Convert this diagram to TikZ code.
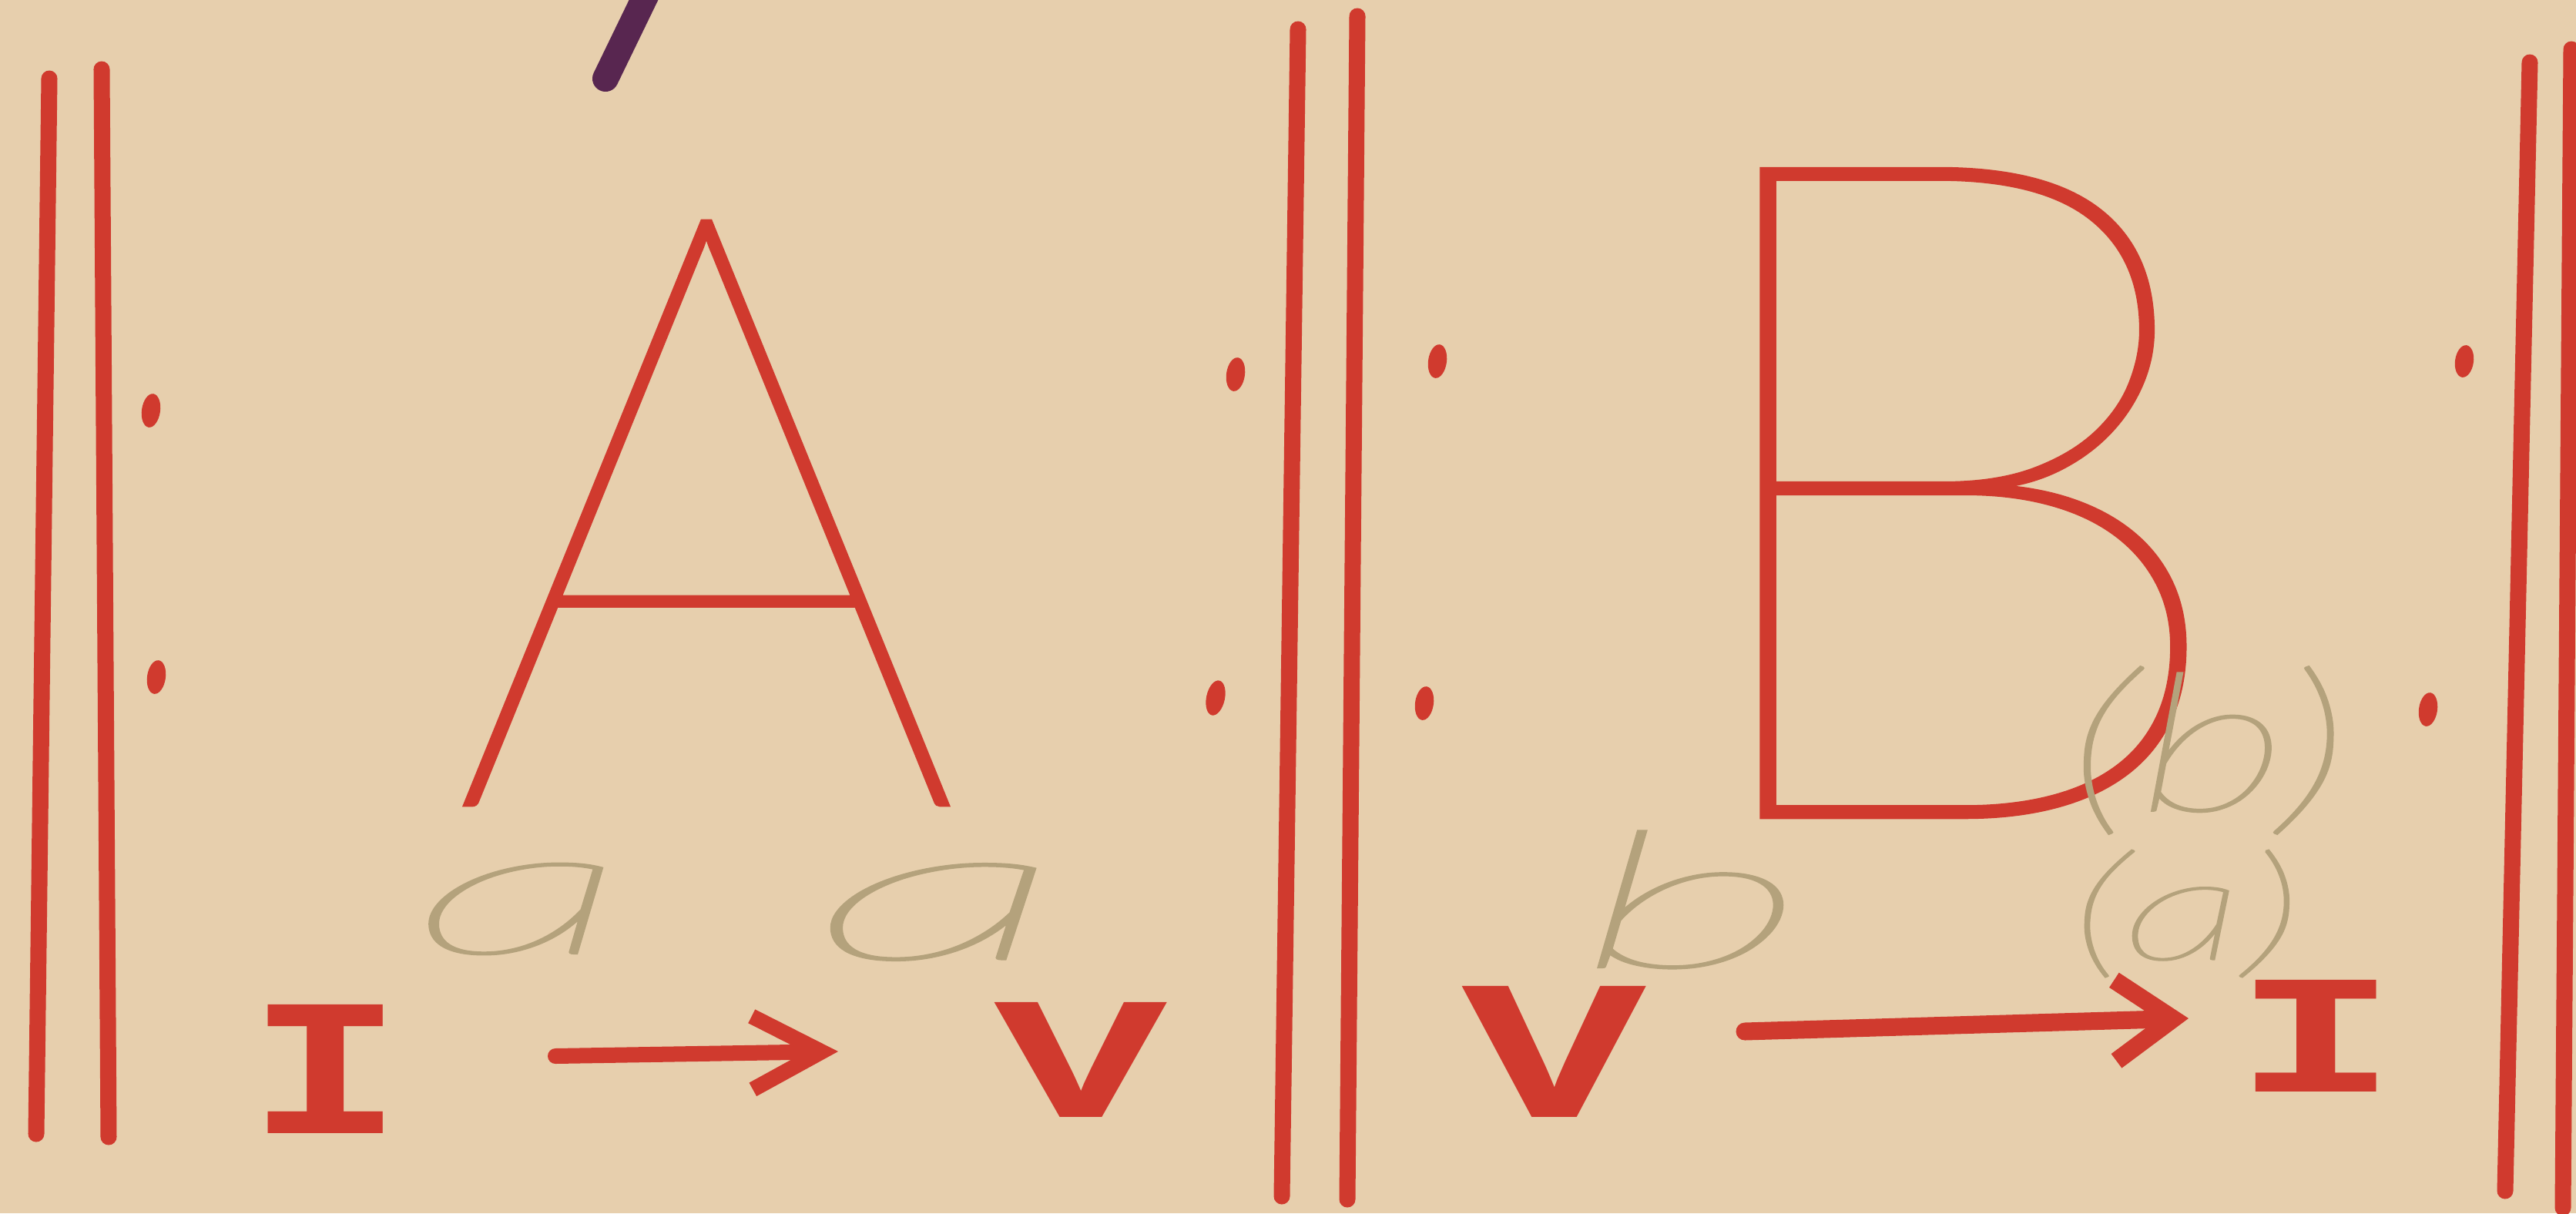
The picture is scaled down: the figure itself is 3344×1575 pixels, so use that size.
\documentclass[tikz,border=0pt]{standalone}
\usepackage{fontspec}
\usetikzlibrary{arrows.meta}
\newif\ifthinfound
\IfFontExistsTF{Lato Hairline}{%
  \global\thinfoundtrue
  \newfontfamily\thinfont{Lato Hairline}[FakeBold=1.2]%
  \IfFontExistsTF{Lato Thin}{\newfontfamily\bigfont{Lato Thin}[FakeBold=0.5]}{\newfontfamily\bigfont{Lato Hairline}[FakeBold=1]}}{%
  \newfontfamily\thinfont{Fira Sans}\newfontfamily\bigfont{Fira Sans}\global\thinfoundfalse}
\newfontfamily\slabfont{Liberation Mono}
\definecolor{paper}{RGB}{231,207,173}
\definecolor{marker}{RGB}{208,58,46}
\definecolor{pencil}{RGB}{180,162,124}
\definecolor{inkpurple}{RGB}{88,38,80}
\newcommand{\fitbox}[3]{\resizebox*{#1cm}{#2cm}{#3}}
\tikzset{
  bar/.style={draw=marker, line width=0.21cm, line cap=round},
  markdot/.style={fill=marker},
  letterline/.style={draw=marker, line width=0.14cm, line cap=round, line join=round},
  bigletter/.style={text=marker, inner sep=0pt, outer sep=0pt, font=\bigfont},
  numeral/.style={text=marker, inner sep=0pt, outer sep=0pt, font=\slabfont\bfseries},
  pencilnote/.style={text=pencil, inner sep=0pt, outer sep=0pt, font=\thinfont\itshape},
  arr/.style={draw=marker, line cap=round, line join=round}
}
\begin{document}
\begin{tikzpicture}[x=0.01cm,y=-0.01cm]
\useasboundingbox (0,0) rectangle (3344,1575);
\clip (0,0) rectangle (3344,1575);
\fill[paper] (0,0) rectangle (3344,1575);
% double bars
\draw[bar] (64,102) -- (47,1472);
\draw[bar] (132,90) -- (141,1476);
\draw[bar] (1685,38) -- (1664,1553);
\draw[bar] (1762,21) -- (1749,1557);
\draw[bar] (3284,81) -- (3252,1546);
\draw[bar] (3338,64) -- (3327,1568);
% repeat dots
\fill[markdot, rotate around={-8:(196,533)}] (196,533) ellipse (12 and 22);
\fill[markdot, rotate around={-8:(203,879)}] (203,879) ellipse (12 and 22);
\fill[markdot, rotate around={-8:(1604,486)}] (1604,486) ellipse (12 and 22);
\fill[markdot, rotate around={-12:(1578,906)}] (1578,906) ellipse (12 and 23);
\fill[markdot, rotate around={-8:(1866,469)}] (1866,469) ellipse (12 and 22);
\fill[markdot, rotate around={-8:(1849,913)}] (1849,913) ellipse (12 and 22);
\fill[markdot, rotate around={-8:(3199,469)}] (3199,469) ellipse (12 and 21);
\fill[markdot, rotate around={-8:(3152,921)}] (3152,921) ellipse (12 and 22);
% purple mark
\draw[inkpurple, line width=0.34cm, line cap=round] (850,-30) -- (786,102);
% big letters
\ifthinfound
\node[bigletter] (A) at (917,666) {\fitbox{6.70}{7.57}{A}};
\node[bigletter] (B) at (2531,640) {\fitbox{7.77}{8.40}{B}};
\else
\coordinate (A) at (917,666);
\draw[letterline] (604,1019) -- (896,288) -- (1231,1045);
\draw[letterline] (725,740) .. controls (850,722) and (960,705) .. (1060,693);
\coordinate (B) at (2559,640);
\draw[letterline] (2288,1060) -- (2299,245)
  .. controls (2400,230) and (2500,215) .. (2580,222)
  .. controls (2720,235) and (2815,320) .. (2811,448)
  .. controls (2808,540) and (2760,600) .. (2719,618)
  .. controls (2790,660) and (2835,780) .. (2832,880)
  .. controls (2828,990) and (2740,1050) .. (2560,1056) -- cycle;
\draw[letterline] (2293,633) .. controls (2450,640) and (2640,645) .. (2719,618);
\fi
% pencil notes
\node[pencilnote] (a1) at (676,1180) {\fitbox{2.80}{1.18}{a}};
\node[pencilnote] (a2) at (1219,1184) {\fitbox{3.30}{1.25}{a}};
\node[pencilnote] (b1) at (2196,1168) {\fitbox{2.97}{1.78}{b}};
\node[pencilnote] (pb) at (2866,974) {\fitbox{3.65}{2.16}{(b)}};
\node[pencilnote] (pa) at (2838,1186) {\fitbox{3.00}{1.64}{(a)}};
% numerals
\node[numeral] (I1) at (423,1388) {\fitbox{2.00}{1.67}{I}};
\node[numeral] (V1) at (1403,1376) {\fitbox{2.25}{1.49}{V}};
\node[numeral] (V2) at (2018,1365) {\fitbox{2.40}{1.70}{V}};
\node[numeral] (I2) at (3007,1345) {\fitbox{2.10}{1.45}{I}};
% arrows
\draw[arr, line width=0.2cm, -{Straight Barb[length=0.9cm,width=0.95cm]}]
  ([shift={(298,-17)}]I1.center) -- ([shift={(-315,-11)}]V1.center);
\draw[arr, line width=0.23cm, -{Straight Barb[length=0.75cm,width=1.05cm]}]
  ([shift={(247,-26)}]V2.center) -- ([shift={(-166,-23)}]I2.center);
\end{tikzpicture}
\end{document}
